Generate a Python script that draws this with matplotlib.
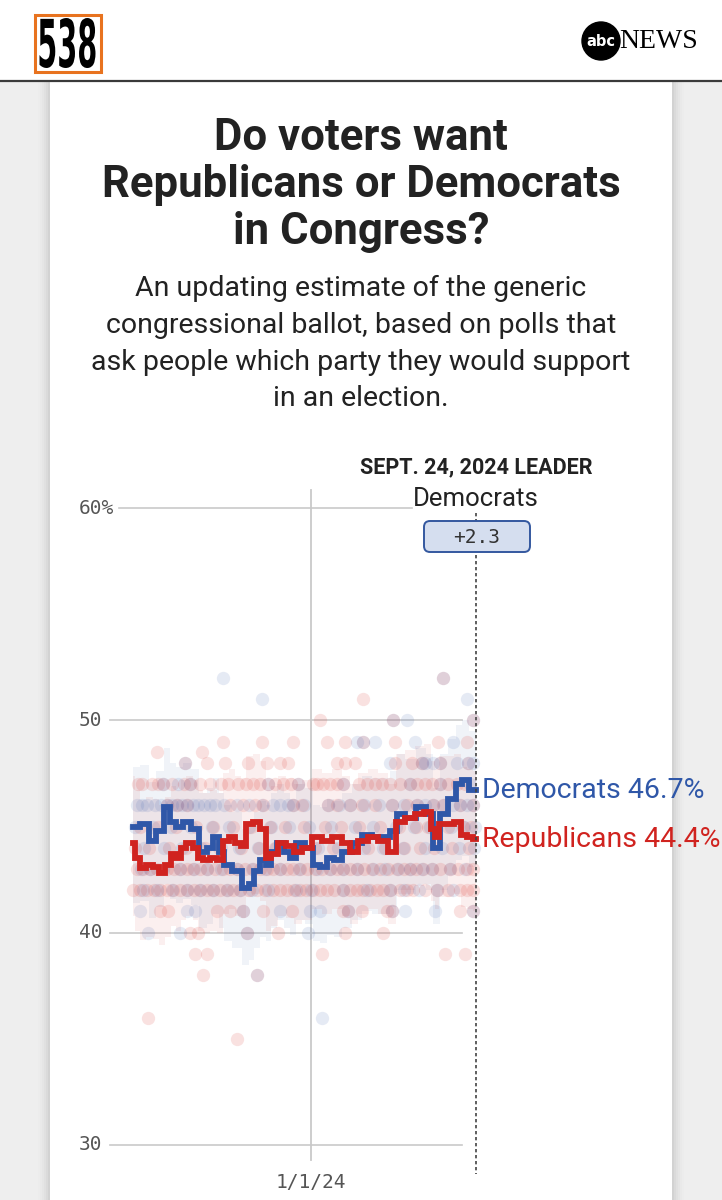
import matplotlib
matplotlib.use("Agg")
import matplotlib.pyplot as plt
from matplotlib.patches import Rectangle, FancyBboxPatch, Circle, PathPatch
from matplotlib.textpath import TextPath
from matplotlib.font_manager import FontProperties
from matplotlib.transforms import Affine2D, blended_transform_factory
import numpy as np

# ---------------- data (days relative to 1 Jan 2024) ----------------
dem_avg_day = [-288, -266, -258, -244, -231, -225, -212, -201, -188, -175, -163, -153, -144, -136,
               -120, -104, -96, -88, -77, -69, -61, -50, -39, -29, -18, -2, 9, 20, 31, 42, 58, 74,
               90, 106, 122, 133, 144, 160, 179, 193, 203, 214, 230, 238, 252, 260, 267]
dem_avg_pct = [45.0, 45.1, 44.3, 44.8, 45.9, 45.2, 45.0, 45.2, 44.9, 43.8, 44.0, 44.5, 43.8, 43.2,
               42.9, 42.1, 42.3, 42.9, 43.4, 43.2, 43.8, 44.2, 43.8, 43.5, 44.2, 44.0, 43.2, 43.1,
               43.5, 43.4, 43.8, 44.2, 44.6, 44.5, 44.5, 44.8, 45.6, 45.4, 45.9, 45.6, 44.0, 45.6,
               46.3, 47.0, 47.2, 46.7, 46.7]

rep_avg_day = [-288, -280, -272, -261, -250, -242, -231, -223, -215, -207, -196, -185, -180, -169,
               -158, -147, -139, -128, -118, -110, -99, -88, -77, -69, -61, -47, -34, -21, -7, 9,
               25, 42, 58, 68, 85, 101, 117, 131, 144, 160, 176, 190, 198, 203, 211, 225, 238,
               247, 257, 267]
rep_avg_pct = [44.2, 43.5, 43.05, 43.2, 43.1, 42.8, 43.2, 43.7, 43.5, 44.0, 44.2, 44.0, 43.5, 43.4,
               43.5, 43.4, 44.3, 44.5, 44.2, 44.1, 45.1, 45.2, 44.9, 43.5, 43.7, 44.2, 44.1, 43.8,
               44.0, 44.5, 44.3, 44.5, 44.2, 43.8, 44.3, 44.5, 44.3, 43.8, 45.2, 45.4, 45.6, 45.7,
               44.9, 44.5, 45.1, 45.1, 45.2, 44.6, 44.5, 44.4]

rep_polls = [
    (214, 52), (84, 51), (15, 50), (133, 50), (262, 50),
    (-142, 49), (-79, 49), (-29, 49), (26, 49), (55, 49), (84, 49), (136, 49), (206, 49), (252, 49),
    (-249, 48.5), (-176, 48.5),
    (-204, 48), (-168, 48), (-139, 48), (-102, 48), (-71, 48), (-50, 48), (-37, 48), (42, 48),
    (55, 48), (71, 48), (136, 48), (163, 48), (180, 48), (209, 48), (254, 48),
    (-273, 47), (-257, 47), (-239, 47), (-196, 47), (-163, 47), (-134, 47), (-118, 47), (-94, 47),
    (-70, 47), (-45, 47), (-21, 47), (3, 47), (10, 47), (31, 47), (52, 47), (104, 47), (128, 47),
    (160, 47), (184, 47), (209, 47), (236, 47),
    (-280, 47), (-248, 47), (-225, 47), (-205, 47), (-180, 47), (-145, 47), (-105, 47), (-82, 47),
    (-58, 47), (-33, 47), (20, 47), (42, 47), (78, 47), (90, 47), (115, 47), (144, 47), (172, 47),
    (196, 47), (222, 47), (250, 47),
    (-233, 46), (-217, 46), (-201, 46), (-131, 46), (-110, 46), (-91, 46), (-78, 46), (-29, 46),
    (-15, 46), (28, 46), (42, 46), (63, 46), (83, 46), (104, 46), (131, 46), (155, 46), (172, 46),
    (197, 46), (214, 46), (241, 46), (262, 46),
    (-276, 45), (-247, 45), (-219, 45), (-186, 45), (-158, 45), (-127, 45), (-97, 45), (-66, 45),
    (-42, 45), (-12, 45), (22, 45), (48, 45), (77, 45), (112, 45), (142, 45), (170, 45), (189, 45),
    (221, 45), (246, 45), (259, 45),
    (-285, 44), (-262, 44), (-229, 44), (-203, 44), (-172, 44), (-149, 44), (-113, 44), (-84, 44),
    (-58, 44), (-25, 44), (6, 44), (36, 44), (65, 44), (93, 44), (119, 44), (150, 44), (177, 44),
    (199, 44), (228, 44), (255, 44),
    (-282, 43), (-261, 43), (-233, 43), (-212, 43), (-191, 43), (-168, 43), (-142, 43), (-120, 43),
    (-94, 43), (-71, 43), (-50, 43), (-29, 43), (-6, 43), (18, 43), (31, 43), (52, 43), (74, 43),
    (99, 43), (139, 43), (160, 43), (181, 43), (196, 43), (225, 43), (252, 43),
    (-272, 43), (-250, 43), (-222, 43), (-201, 43), (-180, 43), (-156, 43), (-131, 43), (-107, 43),
    (-82, 43), (-61, 43), (-39, 43), (-17, 43), (7, 43), (42, 43), (63, 43), (86, 43), (111, 43),
    (125, 43), (150, 43), (170, 43), (208, 43), (238, 43), (262, 43),
    (-288, 42), (-265, 42), (-244, 42), (-223, 42), (-201, 42), (-180, 42), (-159, 42), (-136, 42),
    (-115, 42), (-87, 42), (-61, 42), (-39, 42), (-18, 42), (3, 42), (26, 42), (52, 42), (74, 42),
    (95, 42), (107, 42), (128, 42), (144, 42), (165, 42), (204, 42), (241, 42), (252, 42),
    (-276, 42), (-254, 42), (-233, 42), (-212, 42), (-190, 42), (-169, 42), (-147, 42), (-126, 42),
    (-101, 42), (-74, 42), (-50, 42), (-28, 42), (-8, 42), (14, 42), (38, 42), (63, 42), (84, 42),
    (117, 42), (155, 42), (185, 42), (221, 42), (262, 42),
    (-244, 41), (-231, 41), (-152, 41), (-131, 41), (-110, 41), (-78, 41), (-31, 41), (52, 41),
    (60, 41), (83, 41), (123, 41), (131, 41), (241, 41), (262, 41),
    (-196, 40), (-183, 40), (-104, 40), (-53, 40), (55, 40), (117, 40),
    (-188, 39), (-168, 39), (18, 39), (217, 39), (249, 39),
    (-175, 38), (-87, 38), (-264, 36), (-120, 35),
]

dem_polls = [
    (-142, 52), (214, 52), (-79, 51), (252, 51), (133, 50), (155, 50), (262, 50),
    (74, 49), (84, 49), (104, 49), (168, 49), (230, 49),
    (-204, 48), (128, 48), (180, 48), (184, 48), (197, 48), (209, 48), (236, 48), (254, 48), (262, 48),
    (-239, 47), (-215, 47), (-196, 47), (-70, 47), (-21, 47), (52, 47), (160, 47), (209, 47), (257, 47),
    (-282, 46), (-265, 46), (-252, 46), (-233, 46), (-217, 46), (-201, 46), (-183, 46), (-163, 46),
    (-50, 46), (-29, 46), (28, 46), (63, 46), (131, 46), (172, 46), (197, 46), (241, 46), (262, 46),
    (-273, 46), (-243, 46), (-225, 46), (-208, 46), (-191, 46), (-173, 46), (-155, 46), (-140, 46),
    (-120, 46), (-100, 46), (-80, 46), (-62, 46), (-38, 46), (-12, 46), (45, 46), (85, 46), (110, 46),
    (150, 46), (185, 46), (215, 46), (230, 46), (252, 46),
    (-285, 45), (-255, 45), (-226, 45), (-194, 45), (-161, 45), (-133, 45), (-101, 45), (-64, 45),
    (-35, 45), (-4, 45), (33, 45), (71, 45), (101, 45), (137, 45), (166, 45), (193, 45), (226, 45),
    (248, 45), (266, 45),
    (-270, 44), (-238, 44), (-208, 44), (-178, 44), (-146, 44), (-117, 44), (-86, 44), (-56, 44),
    (-22, 44), (12, 44), (44, 44), (85, 44), (116, 44), (149, 44), (185, 44), (212, 44), (239, 44),
    (264, 44),
    (-261, 43), (-212, 43), (-168, 43), (-120, 43), (-50, 43), (31, 43), (74, 43), (160, 43), (196, 43),
    (-275, 43), (-240, 43), (-189, 43), (-145, 43), (-95, 43), (-75, 43), (-20, 43), (10, 43),
    (52, 43), (100, 43), (120, 43), (140, 43), (180, 43), (225, 43), (250, 43),
    (-180, 42), (-159, 42), (-136, 42), (-115, 42), (52, 42), (128, 42), (204, 42),
    (-272, 42), (-250, 42), (-225, 42), (-200, 42), (-95, 42), (-70, 42), (-25, 42), (0, 42),
    (90, 42), (150, 42), (175, 42), (230, 42),
    (-277, 41), (-201, 41), (-188, 41), (-110, 41), (-50, 41), (-2, 41), (15, 41), (60, 41), (131, 41),
    (152, 41), (201, 41), (262, 41),
    (-264, 40), (-212, 40), (-104, 40), (-5, 40), (-87, 38), (18, 36),
]

y_ticks = [60, 50, 40, 30]
y_tick_labels = ["60%", "50", "40", "30"]
x_tick_day = 0
x_tick_label = "1/1/24"
leader_day = 267
leader_date = "SEPT. 24, 2024 LEADER"
leader_party = "Democrats"
leader_margin = "+2.3"
dem_label = "Democrats 46.7%"
rep_label = "Republicans 44.4%"

# ---------------- styles ----------------
BLUE = "#2f57a8"
RED = "#d0231f"
GRID = "#c9c9c9"
TXT = "#222222"
TICK = "#555555"

W, H = 722, 1200
fig = plt.figure(figsize=(W / 100, H / 100), dpi=100)

# background / page in pixel coordinates
bg = fig.add_axes([0, 0, 1, 1], zorder=0)
bg.set_xlim(0, W)
bg.set_ylim(H, 0)
bg.axis("off")
bg.add_patch(Rectangle((0, 82), W, H - 82, color="#eeeeee", lw=0))
for i, a in enumerate([0.03, 0.025, 0.02, 0.015, 0.01, 0.008]):
    bg.add_patch(Rectangle((50 - 2 * (i + 1), 82), 622 + 4 * (i + 1), H, color="black", alpha=a, lw=0))
bg.add_patch(Rectangle((50, 82), 622, H - 82, color="white", lw=0))
bg.plot([0, W], [81, 81], color="#3a3a3a", lw=1.6)

# 538 logo
bg.add_patch(Rectangle((34.5, 14.5), 66, 57, fill=False, edgecolor="#e8731f", lw=2.2))
tp = TextPath((0, 0), "538", size=100, prop=FontProperties(family="DejaVu Sans", weight="bold"))
ext = tp.get_extents()
tr = Affine2D().translate(-ext.x0, -ext.y0).scale(56 / ext.width, -50 / ext.height).translate(39.5, 68) + bg.transData
bg.add_patch(PathPatch(tp, facecolor="black", edgecolor="none", transform=tr))

# abc NEWS logo
bg.add_patch(Circle((601, 41), 19, color="black"))
bg.text(601, 42, "abc", color="white", fontsize=10.5, weight="bold", ha="center", va="center",
        family="DejaVu Sans")
bg.text(619, 42, "NEWS", fontsize=20, family="Liberation Serif", ha="left", va="center", color="black")

# title and subtitle
for t, yb in zip(["Do voters want", "Republicans or Democrats", "in Congress?"], [150, 197, 244]):
    bg.text(361, yb, t, ha="center", va="baseline", fontsize=31.5, weight="bold", family="Roboto", color=TXT)
sub = ["An updating estimate of the generic", "congressional ballot, based on polls that",
       "ask people which party they would support", "in an election."]
for t, yb in zip(sub, [296, 333, 370, 406]):
    bg.text(361, yb, t, ha="center", va="baseline", fontsize=20.5, family="Roboto", color=TXT)

# ---------------- chart axes ----------------
px_day = 165 / 267.0   # pixels per day
px_pct = (1145 - 508) / 30.0
x0px, x1px, y0px, y1px = 100, 500, 480, 1170
ax = fig.add_axes([x0px / W, 1 - y1px / H, (x1px - x0px) / W, (y1px - y0px) / H], zorder=1)
ax.set_facecolor("none")
ax.set_xlim((x0px - 311) / px_day, (x1px - 311) / px_day)
ax.set_ylim(30 - (y1px - 1145) / px_pct, 60 + (508 - y0px) / px_pct)
ax.axis("off")


def dx(px):
    return (px - 311) / px_day


def dy(py):
    return 30 + (1145 - py) / px_pct


# gridlines
for v in y_ticks:
    right = dx(412) if v == 60 else dx(462)
    left = dx(119) if v == 60 else dx(110)
    ax.plot([left, right], [v, v], color=GRID, lw=1.2, zorder=1, clip_on=False)
ax.plot([x_tick_day, x_tick_day], [dy(490), dy(1160)], color=GRID, lw=1.3, zorder=1, clip_on=False)

# tick labels
btr = blended_transform_factory(bg.transData, ax.transData)
for v, lab in zip(y_ticks, y_tick_labels):
    ax.text(79, v, lab, transform=btr, ha="left", va="center", fontsize=14,
            family="DejaVu Sans Mono", color=TICK)
ax.text(x_tick_day, dy(1182), x_tick_label, ha="center", va="center", fontsize=14,
        family="DejaVu Sans Mono", color=TICK, clip_on=False)

# uncertainty bands
dd = np.array(dem_avg_day); dp = np.array(dem_avg_pct)
rd = np.array(rep_avg_day); rp = np.array(rep_avg_pct)
ax.fill_between(dd, dp - 3.6, dp + 2.8, step="mid", color=BLUE, alpha=0.07, lw=0, zorder=2)
ax.fill_between(rd, rp - 3.4, rp + 3.2, step="mid", color=RED, alpha=0.07, lw=0, zorder=2)

# poll dots
rx, ry = zip(*rep_polls)
bx, by = zip(*dem_polls)
ax.scatter(rx, ry, s=92, color="#dc3a33", alpha=0.15, lw=0, zorder=3, clip_on=False)
ax.scatter(bx, by, s=92, color="#3c5fae", alpha=0.13, lw=0, zorder=3, clip_on=False)

# averages
ax.plot(dd, dp, color=BLUE, lw=4.2, drawstyle="steps-mid", zorder=5, solid_joinstyle="miter")
ax.plot(rd, rp, color=RED, lw=4.2, drawstyle="steps-mid", zorder=6, solid_joinstyle="miter")

# leader line
ax.plot([leader_day, leader_day], [dy(513), dy(1174)], color="#444444", lw=1.2,
        linestyle=(0, (2, 1.6)), zorder=7, clip_on=False)

# end labels
ax.text(dx(482), dem_avg_pct[-1], dem_label, color=BLUE, fontsize=20.5, family="Roboto",
        ha="left", va="center", clip_on=False, zorder=8)
ax.text(dx(482), rep_avg_pct[-1], rep_label, color=RED, fontsize=20.5, family="Roboto",
        ha="left", va="center", clip_on=False, zorder=8)

# ---------------- overlay (leader box) ----------------
ov = fig.add_axes([0, 0, 1, 1], zorder=2)
ov.set_xlim(0, W)
ov.set_ylim(H, 0)
ov.axis("off")
ov.text(476, 473, leader_date, ha="center", va="baseline", fontsize=15.5, weight="bold",
        family="Roboto", color=TXT)
ov.text(476, 506, leader_party, ha="center", va="baseline", fontsize=18.5, family="Roboto", color=TXT)
ov.add_patch(FancyBboxPatch((424, 521), 106, 31, boxstyle="round,pad=0,rounding_size=6",
                            facecolor="#d5deef", edgecolor="#34589f", lw=1.4))
ov.text(477, 537.5, leader_margin, ha="center", va="center", fontsize=14,
        family="DejaVu Sans Mono", color="#333333")

fig.savefig("out.png", dpi=100)
